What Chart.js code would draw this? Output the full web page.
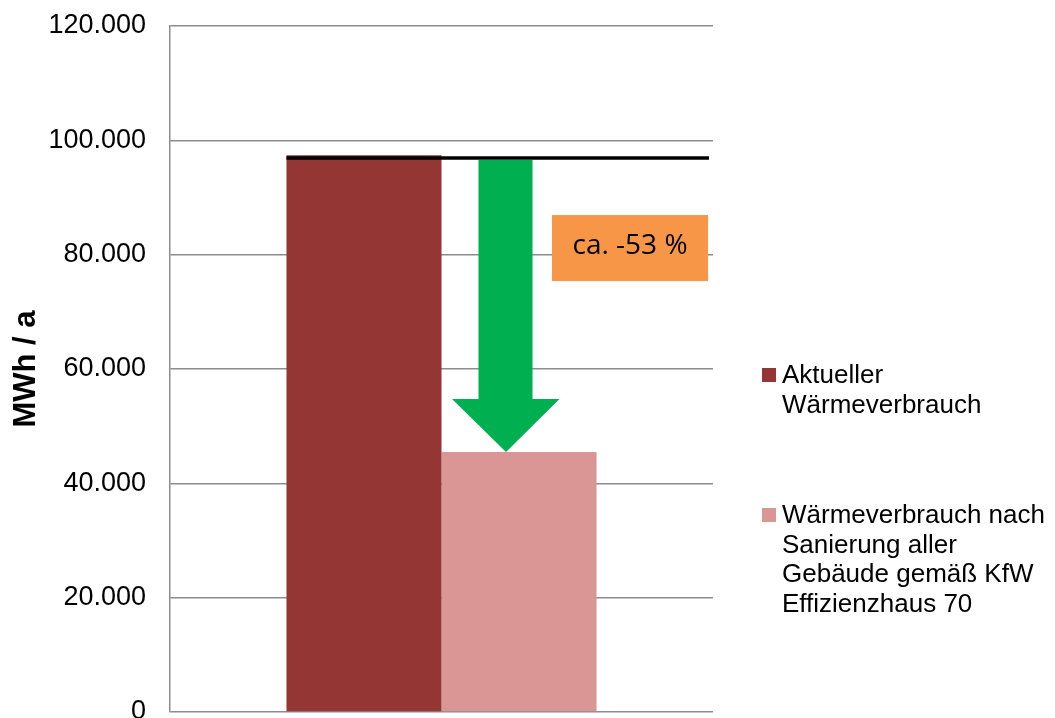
<!DOCTYPE html>
<html>
<head>
<meta charset="utf-8">
<script src="https://cdn.jsdelivr.net/npm/chart.js@4/dist/chart.umd.min.js"></script>
<style>
    body { margin: 0; background: #fff; }
    .wrap { width: 1055px; height: 718px; overflow: hidden; position: relative; }
    canvas { display: block; }
</style>
</head>
<body>
<div class="wrap">
    <canvas id="waermeChart" width="1055" height="740"></canvas>
</div>
<script>
        // Chart data
        const categories = [''];
        const currentUse = [97400];
        const afterRenovation = [45500];
        const baselineValue = 96900;
        const reductionText = 'ca. -53 %';
        const seriesLines = [
            ['Aktueller', 'Wärmeverbrauch'],
            ['Wärmeverbrauch nach', 'Sanierung aller', 'Gebäude gemäß KfW', 'Effizienzhaus 70']
        ];
        const seriesColors = ['#943634', '#D99694'];
        const yMin = 0;
        const yMax = 120000;
        const yStep = 20000;

        function formatThousands(v) {
            return String(v).replace(/\B(?=(\d{3})+(?!\d))/g, '.');
        }

        // Black baseline, green arrow and orange label
        const annotationPlugin = {
            id: 'reductionAnnotation',
            afterDatasetsDraw(chart) {
                const ctx = chart.ctx;
                const area = chart.chartArea;
                const y = chart.scales.y;
                const bar1 = chart.getDatasetMeta(0).data[0];
                const bar2 = chart.getDatasetMeta(1).data[0];
                const lineY = y.getPixelForValue(baselineValue);

                ctx.save();
                // baseline
                ctx.strokeStyle = '#000';
                ctx.lineWidth = 3.5;
                ctx.beginPath();
                ctx.moveTo(bar1.x - bar1.width / 2, lineY);
                ctx.lineTo(area.right - 4, lineY);
                ctx.stroke();

                // arrow
                const left = bar2.x - bar2.width / 2;
                const tipY = bar2.y;
                const headTop = tipY - 53;
                ctx.fillStyle = '#00B050';
                ctx.beginPath();
                ctx.moveTo(left + 37, lineY + 2);
                ctx.lineTo(left + 91, lineY + 2);
                ctx.lineTo(left + 91, headTop);
                ctx.lineTo(left + 118, headTop);
                ctx.lineTo(left + 64.5, tipY);
                ctx.lineTo(left + 10.5, headTop);
                ctx.lineTo(left + 37, headTop);
                ctx.closePath();
                ctx.fill();

                // label box
                const bx = area.right - 161;
                const by = lineY + 57;
                const bw = 156;
                const bh = 66;
                ctx.fillStyle = '#F79646';
                ctx.fillRect(bx, by, bw, bh);
                ctx.fillStyle = '#000';
                ctx.font = "28px 'Open Sans'";
                ctx.textAlign = 'center';
                ctx.textBaseline = 'middle';
                ctx.fillText(reductionText, bx + bw / 2, by + bh / 2 - 2);
                ctx.restore();
            }
        };

        // Legend on the right with wrapped labels
        const legendPlugin = {
            id: 'wrappedLegend',
            afterDraw(chart) {
                const ctx = chart.ctx;
                const area = chart.chartArea;
                const x = area.right + 49;
                const tops = [368, 508];
                ctx.save();
                ctx.font = "26px 'Liberation Sans'";
                ctx.textBaseline = 'alphabetic';
                ctx.textAlign = 'left';
                seriesLines.forEach((lines, i) => {
                    ctx.fillStyle = seriesColors[i];
                    ctx.fillRect(x, tops[i], 14, 14);
                    ctx.fillStyle = '#000';
                    lines.forEach((line, j) => {
                        ctx.fillText(line, x + 20, tops[i] + 15 + j * 29.5);
                    });
                });
                ctx.restore();
            }
        };

        const ctx = document.getElementById('waermeChart').getContext('2d');
        const waermeChart = new Chart(ctx, {
            type: 'bar',
            data: {
                labels: categories,
                datasets: [{
                    label: seriesLines[0].join(' '),
                    data: currentUse,
                    backgroundColor: seriesColors[0],
                    borderWidth: 0
                }, {
                    label: seriesLines[1].join(' '),
                    data: afterRenovation,
                    backgroundColor: seriesColors[1],
                    borderWidth: 0
                }]
            },
            options: {
                responsive: false,
                animation: false,
                categoryPercentage: 0.571,
                barPercentage: 1,
                layout: {
                    padding: { top: 26, bottom: 28, left: 4, right: 342 }
                },
                plugins: {
                    legend: { display: false },
                    tooltip: { enabled: false }
                },
                scales: {
                    x: {
                        display: false
                    },
                    y: {
                        min: yMin,
                        max: yMax,
                        ticks: {
                            stepSize: yStep,
                            color: '#000',
                            padding: 24,
                            font: { family: "'Liberation Sans', Arial", size: 27 },
                            callback: v => formatThousands(v)
                        },
                        grid: {
                            color: '#8c8c8c',
                            lineWidth: 1.5,
                            drawTicks: false
                        },
                        border: {
                            color: '#8c8c8c',
                            width: 1.5
                        },
                        title: {
                            display: true,
                            text: 'MWh / a',
                            color: '#000',
                            padding: 4,
                            font: { family: "'Liberation Sans', Arial", size: 31, weight: 'bold' }
                        },
                        afterFit(scale) {
                            scale.width = 166;
                            scale.paddingTop = 0;
                            scale.paddingBottom = 0;
                        }
                    }
                }
            },
            plugins: [annotationPlugin, legendPlugin]
        });
</script>
</body>
</html>
